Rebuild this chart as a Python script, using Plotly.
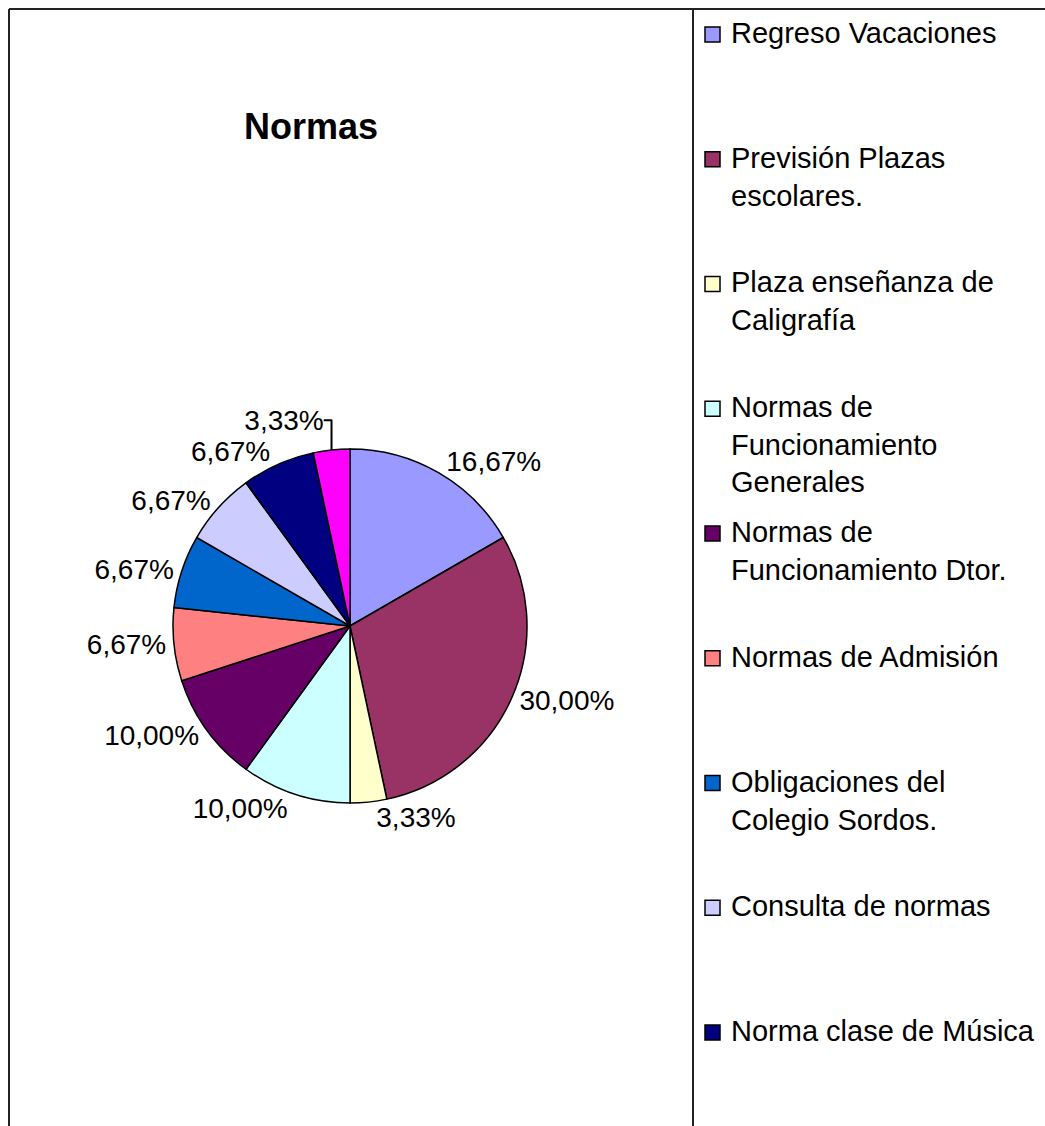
import plotly.graph_objects as go

W, H = 1045, 1126

labels = [
    "Regreso Vacaciones",
    "Previsión Plazas escolares.",
    "Plaza enseñanza de Caligrafía",
    "Normas de Funcionamiento Generales",
    "Normas de Funcionamiento Dtor.",
    "Normas de Admisión",
    "Obligaciones del Colegio Sordos.",
    "Consulta de normas",
    "Norma clase de Música",
    "Otras normas",
]
legend_text = [
    "Regreso Vacaciones",
    "Previsión Plazas<br>escolares.",
    "Plaza enseñanza de<br>Caligrafía",
    "Normas de<br>Funcionamiento<br>Generales",
    "Normas de<br>Funcionamiento Dtor.",
    "Normas de Admisión",
    "Obligaciones del<br>Colegio Sordos.",
    "Consulta de normas",
    "Norma clase de Música",
]
values = [16.67, 30.00, 3.33, 10.00, 10.00, 6.67, 6.67, 6.67, 6.67, 3.33]
colors = ["#9999FF", "#993366", "#FFFFCC", "#CCFFFF", "#660066",
          "#FF8080", "#0066CC", "#CCCCFF", "#000080", "#FF00FF"]

FONT = "Liberation Sans, Arial, sans-serif"

cx, cy, r = 350, 626, 177

fig = go.Figure()
fig.add_trace(go.Pie(
    labels=labels,
    values=values,
    sort=False,
    direction="clockwise",
    rotation=0,
    marker=dict(colors=colors, line=dict(color="#000000", width=1.5)),
    textposition="outside",
    texttemplate="%{percent:.2%}",
    textfont=dict(family=FONT, size=28, color="#000000"),
    domain=dict(x=[(cx - r) / W, (cx + r) / W],
                y=[(H - cy - r) / H, (H - cy + r) / H]),
    showlegend=False,
    hoverinfo="label+percent",
))

shapes = []
annotations = []

# outer frame and legend divider
shapes.append(dict(type="line", xref="paper", yref="paper",
                   x0=9 / W, x1=1.0, y0=1 - 9 / H, y1=1 - 9 / H,
                   line=dict(color="#222222", width=2)))
shapes.append(dict(type="line", xref="paper", yref="paper",
                   x0=9 / W, x1=9 / W, y0=0, y1=1 - 9 / H,
                   line=dict(color="#222222", width=2)))
shapes.append(dict(type="line", xref="paper", yref="paper",
                   x0=693 / W, x1=693 / W, y0=0, y1=1 - 9 / H,
                   line=dict(color="#222222", width=2)))

# title
annotations.append(dict(text="<b>Normas</b>", xref="paper", yref="paper",
                        x=311 / W, y=1 - 127 / H, xanchor="center", yanchor="middle",
                        showarrow=False,
                        font=dict(family=FONT, size=36, color="#000000")))

# legend
base0, step = 42, 124.75
for i, txt in enumerate(legend_text):
    b = base0 + i * step
    shapes.append(dict(type="rect", xref="paper", yref="paper",
                       x0=705 / W, x1=720 / W, y0=1 - b / H, y1=1 - (b - 15) / H,
                       fillcolor=colors[i], line=dict(color="#000000", width=1.5)))
    annotations.append(dict(text=txt, xref="paper", yref="paper",
                            x=729 / W, y=1 - (b - 27) / H,
                            xanchor="left", yanchor="top", align="left",
                            showarrow=False,
                            font=dict(family=FONT, size=29, color="#000000")))

fig.update_layout(
    width=W, height=H,
    margin=dict(l=0, r=0, t=0, b=0),
    paper_bgcolor="#FFFFFF",
    plot_bgcolor="#FFFFFF",
    separators=",.",
    shapes=shapes,
    annotations=annotations,
)

fig.write_html("out.html",
               config={"displayModeBar": False},
               post_script="document.body.style.margin='0';document.body.style.padding='0';")
